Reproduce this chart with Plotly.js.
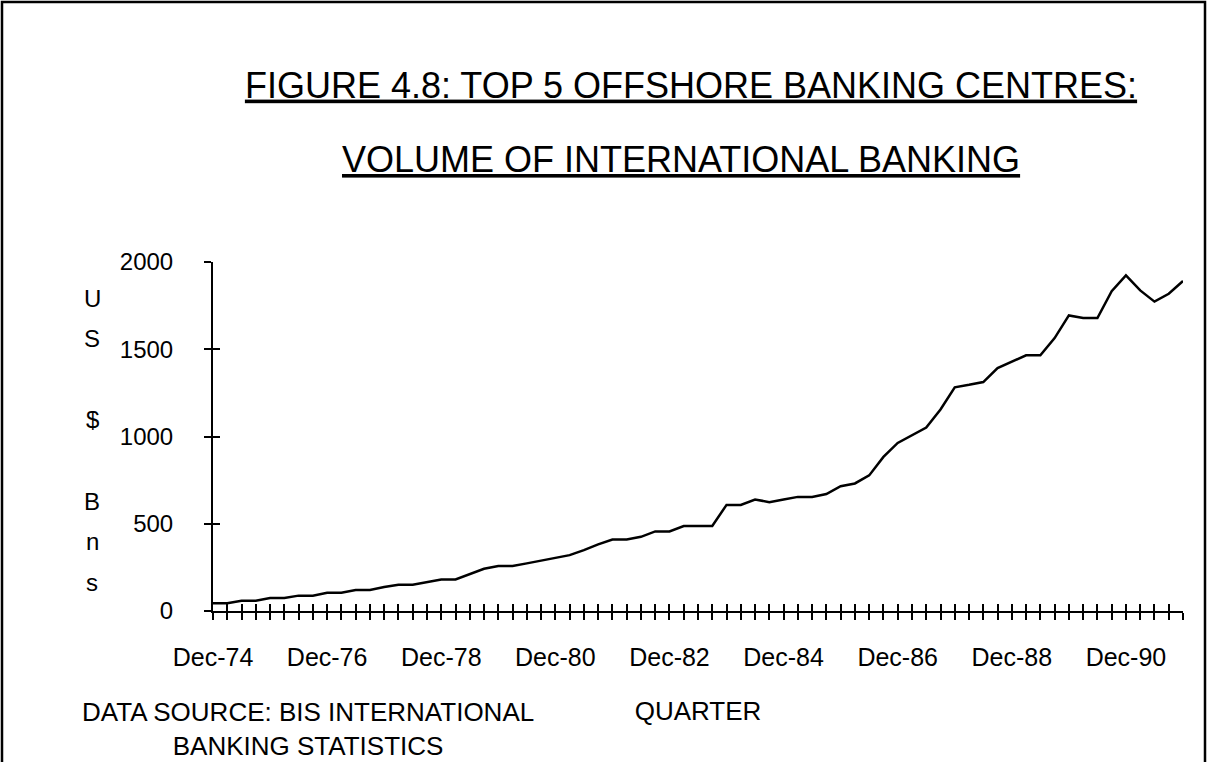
<!DOCTYPE html>
<html>
<head>
<meta charset="utf-8">
<script src="https://cdn.plot.ly/plotly-3.0.1.min.js"></script>
<style>html,body{margin:0;padding:0;background:#fff;}#chart{width:1207px;height:762px;}</style>
</head>
<body>
<div id="chart"></div>
<script>
// ---- data ----
const quarters = [
  "Dec-74",
  "Mar-75","Jun-75","Sep-75","Dec-75",
  "Mar-76","Jun-76","Sep-76","Dec-76",
  "Mar-77","Jun-77","Sep-77","Dec-77",
  "Mar-78","Jun-78","Sep-78","Dec-78",
  "Mar-79","Jun-79","Sep-79","Dec-79",
  "Mar-80","Jun-80","Sep-80","Dec-80",
  "Mar-81","Jun-81","Sep-81","Dec-81",
  "Mar-82","Jun-82","Sep-82","Dec-82",
  "Mar-83","Jun-83","Sep-83","Dec-83",
  "Mar-84","Jun-84","Sep-84","Dec-84",
  "Mar-85","Jun-85","Sep-85","Dec-85",
  "Mar-86","Jun-86","Sep-86","Dec-86",
  "Mar-87","Jun-87","Sep-87","Dec-87",
  "Mar-88","Jun-88","Sep-88","Dec-88",
  "Mar-89","Jun-89","Sep-89","Dec-89",
  "Mar-90","Jun-90","Sep-90","Dec-90",
  "Mar-91","Jun-91","Sep-91","Dec-91"
];
const volumeUSDbn = [
  44, 44, 59, 59, 74, 74, 88, 88, 105, 105,
  120, 120, 137, 151, 151, 168, 181, 181, 212, 242,
  258, 258, 273, 288, 302, 320, 349, 382, 410, 410,
  425, 456, 456, 487, 487, 487, 608, 608, 639, 624,
  639, 654, 654, 670, 715, 731, 777, 883, 963, 1009,
  1051, 1155, 1282, 1296, 1312, 1392, 1427, 1465, 1465, 1564,
  1694, 1679, 1679, 1833, 1923, 1837, 1773, 1818, 1891
];
const xTickLabels = ["Dec-74","Dec-76","Dec-78","Dec-80","Dec-82","Dec-84","Dec-86","Dec-88","Dec-90"];
const yTickValues = [0, 500, 1000, 1500, 2000];
const yLabelLetters = ["U", "S", "", "$", "", "B", "n", "s"];
const titleLine1 = "FIGURE 4.8: TOP 5 OFFSHORE BANKING CENTRES:";
const titleLine2 = "VOLUME OF INTERNATIONAL BANKING";
const xTitle = "QUARTER";
const sourceNote = "DATA SOURCE: BIS INTERNATIONAL<br>BANKING STATISTICS";

// ---- layout geometry ----
const W = 1207, H = 762;
const L = 213, R = 1183, T = 262, B = 611;
const px2x = p => (p - L) / (R - L);
const px2y = p => (B - p) / (B - T);
const FONT = "Liberation Sans, Arial, sans-serif";

const tickIdx = quarters.map((q, i) => i);
const tickTxt = quarters.map(q => xTickLabels.includes(q) ? q : "");

const trace = {
  type: "scatter", mode: "lines",
  x: tickIdx, y: volumeUSDbn,
  line: {color: "#000", width: 2.5},
  hoverinfo: "x+y", showlegend: false
};
// empty helper trace so the overlaid axes (inner half of the crossing ticks) get drawn
const tickHelper = {
  type: "scatter", mode: "lines", x: [], y: [],
  xaxis: "x2", yaxis: "y2", showlegend: false, hoverinfo: "skip"
};

const annotations = [];
annotations.push({
  xref: "paper", yref: "paper", x: px2x(681), y: px2y(160),
  xanchor: "center", yanchor: "middle", showarrow: false,
  text: "<u>" + titleLine2 + "</u>", font: {family: FONT, size: 36, color: "#000"}
});
const letterTop = 298, letterStep = 40.6;
yLabelLetters.forEach((ch, i) => {
  if (!ch) return;
  annotations.push({
    xref: "paper", yref: "paper", x: px2x(92), y: px2y(letterTop + i * letterStep),
    xanchor: "center", yanchor: "middle", showarrow: false,
    text: ch, font: {family: FONT, size: 24, color: "#000"}
  });
});
annotations.push({
  xref: "paper", yref: "paper", x: px2x(308), y: px2y(729),
  xanchor: "center", yanchor: "middle", showarrow: false, align: "center",
  text: sourceNote, font: {family: FONT, size: 26, color: "#000"}
});

const layout = {
  width: W, height: H,
  margin: {l: L, r: W - R, t: T, b: H - B, pad: 0},
  paper_bgcolor: "#fff", plot_bgcolor: "#fff",
  font: {family: FONT, color: "#000"},
  title: {
    text: "<u>" + titleLine1 + "</u>",
    xref: "container", yref: "container",
    x: 691 / W, y: 1 - 85 / H, xanchor: "center", yanchor: "middle",
    font: {family: FONT, size: 36, color: "#000"}
  },
  xaxis: {
    range: [0, quarters.length - 1],
    tickmode: "array", tickvals: tickIdx, ticktext: tickTxt,
    ticks: "outside", ticklen: 7, tickwidth: 2, tickcolor: "#000",
    showline: true, linecolor: "#000", linewidth: 2,
    showgrid: false, zeroline: false,
    tickfont: {family: FONT, size: 25, color: "#000"},
    ticklabelstandoff: 16,
    title: {text: xTitle, font: {family: FONT, size: 26, color: "#000"}, standoff: 32},
    fixedrange: true
  },
  xaxis2: {
    overlaying: "x", anchor: "y", side: "bottom",
    range: [0, quarters.length - 1],
    tickmode: "array", tickvals: tickIdx,
    ticks: "inside", ticklen: 7, tickwidth: 2, tickcolor: "#000",
    showticklabels: false, showline: false, showgrid: false, zeroline: false,
    fixedrange: true
  },
  yaxis: {
    range: [0, 2000],
    tickmode: "array", tickvals: yTickValues,
    ticks: "outside", ticklen: 7, tickwidth: 2, tickcolor: "#000",
    showline: true, linecolor: "#000", linewidth: 2,
    showgrid: false, zeroline: false,
    tickfont: {family: FONT, size: 24, color: "#000"},
    ticklabelstandoff: 26,
    fixedrange: true
  },
  yaxis2: {
    overlaying: "y", anchor: "x", side: "left",
    range: [0, 2000],
    tickmode: "array", tickvals: yTickValues,
    ticks: "inside", ticklen: 7, tickwidth: 2, tickcolor: "#000",
    showticklabels: false, showline: false, showgrid: false, zeroline: false,
    fixedrange: true
  },
  shapes: [{
    type: "rect", xref: "paper", yref: "paper",
    x0: px2x(2), x1: px2x(1205), y0: px2y(800), y1: px2y(2),
    line: {color: "#000", width: 2.5}, fillcolor: "rgba(0,0,0,0)"
  }],
  annotations: annotations,
  showlegend: false
};

Plotly.newPlot("chart", [trace, tickHelper], layout, {displayModeBar: false, staticPlot: true});
</script>
</body>
</html>
